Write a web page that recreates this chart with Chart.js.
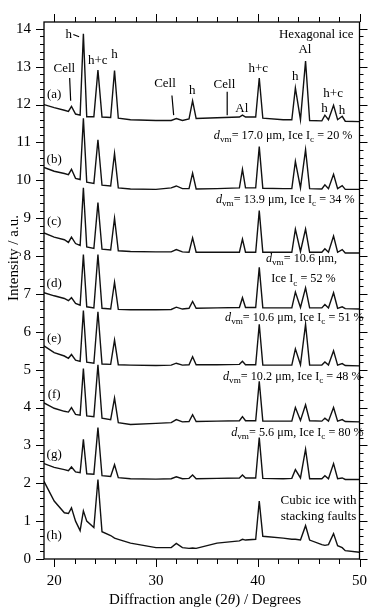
<!DOCTYPE html>
<html>
<head>
<meta charset="utf-8">
<script src="https://cdn.jsdelivr.net/npm/chart.js@4.4.1/dist/chart.umd.min.js"></script>
<style>
  html, body { margin: 0; padding: 0; background: #fff; }
  #wrap { width: 380px; height: 610px; }
</style>
</head>
<body>
<div id="wrap"><canvas id="xrdChart" width="380" height="610"></canvas></div>
<script>
// diffraction angle grid (2 theta, degrees) shared by all traces
const angle = [19.0, 20.0, 21.0, 21.4, 21.7, 22.1, 22.55, 22.87, 23.2, 23.9, 24.3, 24.7,
    25.55, 25.93, 26.3, 27.5, 30.0, 31.5, 32.0, 32.6, 33.25, 33.6, 33.95, 36.0,
    38.2, 38.5, 38.8, 39.8, 40.15, 40.5, 42.5, 43.35, 43.7, 44.2, 44.7, 45.1,
    46.3, 46.6, 46.95, 47.45, 47.85, 48.3, 48.6, 50.0];

// intensities (a.u., already offset)
const traceA = [12.0, 11.92, 11.85, 11.82, 11.95, 11.75, 11.72, 13.87, 11.68, 11.68, 12.91, 11.67,
    11.66, 12.9, 11.64, 11.6, 11.58, 11.58, 11.63, 11.58, 11.62, 12.1, 11.63, 11.65,
    11.67, 11.72, 11.67, 11.67, 12.7, 11.64, 11.6, 11.6, 12.44, 11.6, 13.15, 11.58,
    11.57, 11.72, 11.6, 11.98, 11.6, 11.69, 11.56, 11.55];
const traceB = [10.34, 10.24, 10.18, 10.15, 10.29, 10.05, 10.02, 11.64, 9.95, 9.92, 11.07, 9.87,
    9.85, 10.71, 9.8, 9.77, 9.76, 9.8, 9.85, 9.78, 9.78, 10.19, 9.77, 9.78,
    9.8, 10.29, 9.8, 9.8, 10.89, 9.79, 9.78, 9.78, 10.5, 9.8, 10.81, 9.78,
    9.77, 9.88, 9.78, 10.16, 9.78, 9.86, 9.76, 9.76];
const traceC = [8.61, 8.5, 8.43, 8.36, 8.5, 8.33, 8.28, 9.8, 8.24, 8.2, 9.41, 8.18,
    8.16, 9.0, 8.14, 8.12, 8.11, 8.11, 8.17, 8.11, 8.1, 8.48, 8.1, 8.1,
    8.1, 8.45, 8.1, 8.1, 9.2, 8.1, 8.1, 8.1, 8.71, 8.12, 8.71, 8.1,
    8.1, 8.19, 8.1, 8.53, 8.1, 8.17, 8.08, 8.08];
const traceD = [7.03, 6.95, 6.88, 6.82, 6.9, 6.75, 6.7, 8.04, 6.66, 6.63, 8.04, 6.62,
    6.6, 7.31, 6.59, 6.58, 6.58, 6.59, 6.65, 6.6, 6.62, 6.8, 6.62, 6.63,
    6.64, 6.9, 6.64, 6.64, 7.7, 6.63, 6.63, 6.63, 7.05, 6.64, 7.16, 6.63,
    6.63, 6.72, 6.63, 7.03, 6.62, 6.66, 6.61, 6.6];
const traceE = [5.63, 5.45, 5.36, 5.3, 5.4, 5.25, 5.22, 6.56, 5.2, 5.17, 6.53, 5.15,
    5.14, 5.78, 5.13, 5.12, 5.11, 5.12, 5.17, 5.12, 5.13, 5.34, 5.13, 5.13,
    5.14, 5.22, 5.13, 5.13, 6.2, 5.12, 5.12, 5.12, 5.55, 5.13, 6.2, 5.12,
    5.12, 5.2, 5.12, 5.5, 5.12, 5.16, 5.11, 5.1];
const traceF = [4.12, 3.98, 3.9, 3.88, 4.0, 3.82, 3.8, 5.03, 3.78, 3.76, 5.13, 3.72,
    3.68, 4.25, 3.6, 3.55, 3.58, 3.6, 3.68, 3.62, 3.63, 3.81, 3.63, 3.64,
    3.65, 3.76, 3.65, 3.65, 4.69, 3.64, 3.64, 3.64, 4.0, 3.66, 4.07, 3.65,
    3.64, 3.72, 3.64, 4.0, 3.64, 3.68, 3.63, 3.62];
const traceG = [2.52, 2.42, 2.36, 2.33, 2.43, 2.3, 2.28, 3.16, 2.25, 2.24, 3.47, 2.2,
    2.18, 2.49, 2.15, 2.12, 2.11, 2.12, 2.17, 2.12, 2.13, 2.22, 2.12, 2.13,
    2.14, 2.22, 2.14, 2.14, 3.21, 2.13, 2.12, 2.13, 2.36, 2.14, 2.9, 2.12,
    2.12, 2.2, 2.12, 2.52, 2.12, 2.14, 2.1, 2.1];
const traceH = [2.05, 1.53, 1.22, 1.2, 1.35, 1.0, 0.75, 1.27, 1.0, 0.83, 2.1, 0.72,
    0.62, 0.55, 0.52, 0.42, 0.3, 0.3, 0.41, 0.3, 0.28, 0.29, 0.28, 0.42,
    0.48, 0.52, 0.5, 0.52, 1.53, 0.6, 0.55, 0.52, 0.52, 0.5, 0.88, 0.5,
    0.38, 0.36, 0.38, 0.67, 0.35, 0.3, 0.22, 0.18];

const traces = [traceA, traceB, traceC, traceD, traceE, traceF, traceG, traceH];
const sampleNames = ['(a)', '(b)', '(c)', '(d)', '(e)', '(f)', '(g)', '(h)'];
const sampleNameY = [12.26, 10.55, 8.92, 7.28, 5.81, 4.33, 2.75, 0.62];

// peak labels on trace (a): [text, angle, intensity]
const peakLabels = [
    ['h', 21.43, 13.85], ['Cell', 21.0, 12.94], ['h+c', 24.29, 13.15], ['h', 25.92, 13.33],
    ['Cell', 30.89, 12.55], ['h', 33.57, 12.37], ['Cell', 36.73, 12.52], ['Al', 38.44, 11.9],
    ['h+c', 40.06, 12.96], ['h', 43.69, 12.73], ['Al', 44.64, 13.46], ['h', 46.55, 11.9],
    ['h+c', 47.41, 12.29], ['h', 48.27, 11.85], ['Hexagonal ice', 45.75, 13.85]
];
// leader lines [x1, y1, x2, y2]
const leaders = [
    [21.88, 13.85, 22.45, 13.79],
    [21.52, 12.7, 21.62, 12.1],
    [31.57, 12.24, 31.74, 11.72],
    [37.0, 12.34, 37.0, 11.72]
];

// size / fraction notes
const dvmValues = ['17.0', '13.9', '10.6', '10.6', '10.2', '5.6'];
const icValues = ['20', '34', '52', '51', '48', '80'];
const noteX = [42.5, 42.7, 44.3, 43.6, 43.4, 43.9];
const noteY = [11.17, 9.49, 7.93, 6.38, 4.82, 3.34];

const FONT = '"Liberation Serif", "Times New Roman", serif';
const NOTE = 12.2, SUB = 9.2;

function segFont(s) {
    return (s.it ? 'italic ' : '') + (s.sub ? SUB : NOTE) + 'px ' + FONT;
}
function drawRich(ctx, segs, cx, cy) {
    let w = 0;
    segs.forEach(s => { ctx.font = segFont(s); w += ctx.measureText(s.t).width; });
    let x = cx - w / 2;
    segs.forEach(s => {
        ctx.font = segFont(s);
        ctx.fillText(s.t, x, s.sub ? cy + 4 : cy);
        x += ctx.measureText(s.t).width;
    });
}

const decorPlugin = {
    id: 'decor',
    afterDraw(chart) {
        const ctx = chart.ctx;
        const xs = chart.scales.x, ys = chart.scales.y;
        const a = chart.chartArea;
        ctx.save();
        ctx.strokeStyle = '#000';
        ctx.fillStyle = '#000';
        ctx.lineWidth = 1.3;
        ctx.strokeRect(a.left, a.top, a.right - a.left, a.bottom - a.top);

        // ticks pointing out of the frame
        ctx.lineWidth = 1;
        ctx.beginPath();
        for (let v = 20; v <= 50.01; v += 2) {
            const px = Math.round(xs.getPixelForValue(v)) + 0.5;
            const len = (Math.round(v) % 10 === 0) ? 8 : 5;
            ctx.moveTo(px, a.bottom); ctx.lineTo(px, a.bottom + len);
            ctx.moveTo(px, a.top); ctx.lineTo(px, a.top - len);
        }
        for (let i = 0; i <= 70; i++) {
            const py = Math.round(ys.getPixelForValue(i * 0.2)) + 0.5;
            const len = (i % 5 === 0) ? 8 : 4;
            ctx.moveTo(a.left, py); ctx.lineTo(a.left - len, py);
            ctx.moveTo(a.right, py); ctx.lineTo(a.right + len, py);
        }
        ctx.stroke();

        // leader lines
        ctx.lineWidth = 1.2;
        ctx.beginPath();
        leaders.forEach(l => {
            ctx.moveTo(xs.getPixelForValue(l[0]), ys.getPixelForValue(l[1]));
            ctx.lineTo(xs.getPixelForValue(l[2]), ys.getPixelForValue(l[3]));
        });
        ctx.stroke();

        ctx.textAlign = 'center';
        ctx.textBaseline = 'middle';
        ctx.font = '13px ' + FONT;
        peakLabels.forEach(p => {
            ctx.fillText(p[0], xs.getPixelForValue(p[1]), ys.getPixelForValue(p[2]));
        });
        sampleNames.forEach((n, i) => {
            ctx.fillText(n, xs.getPixelForValue(20.0), ys.getPixelForValue(sampleNameY[i]));
        });

        // d_vm / Ice Ic notes
        ctx.textAlign = 'left';
        dvmValues.forEach((d, i) => {
            const cx = xs.getPixelForValue(noteX[i]);
            const cy = ys.getPixelForValue(noteY[i]);
            const first = [{t: 'd', it: true}, {t: 'vm', sub: true}, {t: '= ' + d + ' \u03bcm,'}];
            const second = [{t: 'Ice I'}, {t: 'c', sub: true}, {t: ' = ' + icValues[i] + ' %'}];
            if (i === 2) {
                drawRich(ctx, first, cx, cy);
                drawRich(ctx, second, cx + 2, ys.getPixelForValue(7.39));
            } else {
                drawRich(ctx, first.concat([{t: ' '}], second), cx, cy);
            }
        });
        ctx.textAlign = 'center';
        ctx.font = '13px ' + FONT;
        ctx.fillText('Cubic ice with', xs.getPixelForValue(45.97), ys.getPixelForValue(1.53));
        ctx.fillText('stacking faults', xs.getPixelForValue(45.97), ys.getPixelForValue(1.11));

        // axis titles
        ctx.textBaseline = 'alphabetic';
        const parts = [['Diffraction angle (2', ''], ['\u03b8', 'italic '], [') / Degrees', '']];
        let total = 0;
        parts.forEach(p => { ctx.font = p[1] + '15px ' + FONT; total += ctx.measureText(p[0]).width; });
        let tx = 205 - total / 2;
        ctx.textAlign = 'left';
        parts.forEach(p => {
            ctx.font = p[1] + '15px ' + FONT;
            ctx.fillText(p[0], tx, 604);
            tx += ctx.measureText(p[0]).width;
        });
        ctx.translate(14, 258);
        ctx.rotate(-Math.PI / 2);
        ctx.textAlign = 'center';
        ctx.textBaseline = 'middle';
        ctx.font = '15px ' + FONT;
        ctx.fillText('Intensity / a.u.', 0, 0);
        ctx.restore();
    }
};

const datasets = traces.map((t, i) => ({
    label: sampleNames[i],
    data: angle.map((x, j) => ({x: x, y: t[j]})),
    showLine: true,
    borderColor: '#111',
    borderWidth: 1.4,
    pointRadius: 0,
    tension: 0
}));

new Chart(document.getElementById('xrdChart'), {
    type: 'scatter',
    data: {datasets: datasets},
    options: {
        responsive: false,
        animation: false,
        layout: {padding: {top: 12, right: 11, left: 0, bottom: 0}},
        plugins: {legend: {display: false}, tooltip: {enabled: false}},
        scales: {
            x: {
                type: 'linear', min: 19, max: 50,
                grid: {display: false, drawTicks: false},
                border: {display: false},
                ticks: {stepSize: 10, includeBounds: false, padding: 13, color: '#000',
                    font: {family: FONT, size: 15}},
                afterFit: (scale) => { scale.height = 51; }
            },
            y: {
                type: 'linear', min: 0, max: 14.18,
                grid: {display: false, drawTicks: false},
                border: {display: false},
                ticks: {stepSize: 1, includeBounds: false, padding: 13, color: '#000',
                    font: {family: FONT, size: 15}},
                afterFit: (scale) => { scale.width = 44; }
            }
        }
    },
    plugins: [decorPlugin]
});
</script>
</body>
</html>
